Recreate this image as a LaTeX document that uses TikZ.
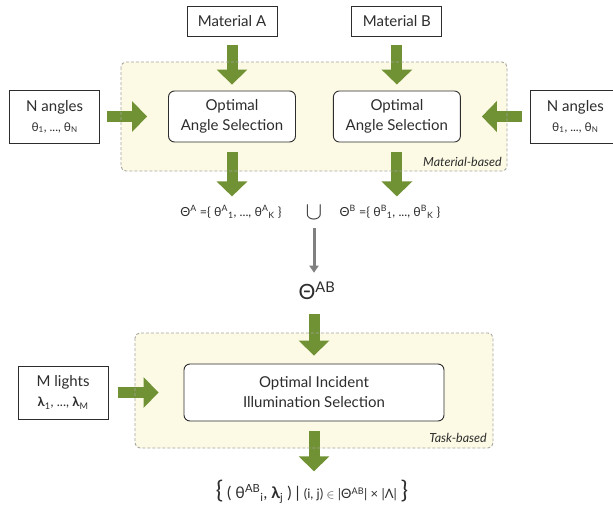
\documentclass[tikz,border=0pt]{standalone}
\usepackage{fontspec}
\setmainfont{Lato}
\usetikzlibrary{arrows.meta,positioning}
\definecolor{leaf}{RGB}{112,146,52}
\definecolor{cream}{RGB}{252,250,228}
\definecolor{frame}{RGB}{165,165,160}
\definecolor{ink}{RGB}{45,45,45}
\newcommand{\supsub}[2]{\textsuperscript{#1}\textsubscript{#2}}
\newcommand{\bigsym}[1]{{\fontsize{24}{24}\selectfont #1}}

\begin{document}
\begin{tikzpicture}[
  x=1pt, y=-1pt,
  font=\fontsize{15}{20}\selectfont, text=ink,
  box/.style={draw=ink, line width=0.9pt, fill=white, align=center,
              minimum width=90pt, minimum height=30pt, inner sep=0pt},
  selbox/.style={box, rounded corners=6pt, minimum width=127pt, minimum height=51pt},
  region/.style={draw=frame, line width=0.9pt, densely dashed, rounded corners=5pt},
  fat/.style={-{Triangle[width=30pt,length=15pt]}, line width=11pt, draw=leaf},
  slim/.style={-{Triangle[width=9pt,length=7pt]}, line width=3pt, draw=black!50},
  set/.style={inner sep=0pt, font=\fontsize{12.5}{14}\selectfont}]
  \useasboundingbox (0,0) rectangle (613,506);
  \fill[white] (0,0) rectangle (613,506);
  \fill[cream, rounded corners=5pt] (121,62) rectangle (507,171);
  \fill[cream, rounded corners=5pt] (135,333) rectangle (493,448);
  % material-based part
  \node[selbox] (selA) at (232,116.5) {Optimal\\Angle Selection};
  \node[selbox, right=37pt of selA] (selB) {Optimal\\Angle Selection};
  \node[box, above=54pt of selA] (matA) {Material A};
  \node[box, above=54pt of selB] (matB) {Material B};
  \node[box, minimum height=53pt, left=68pt of selA] (angL) {N angles\\{\fontsize{12}{14}\selectfont θ\textsubscript{1}, ..., θ\textsubscript{N}}};
  \node[box, minimum height=53pt, right=69pt of selB] (angR) {N angles\\{\fontsize{12}{14}\selectfont θ\textsubscript{1}, ..., θ\textsubscript{N}}};
  \node[set] (setA) at (231,212) {Θ\textsuperscript{A} =\{ θ\supsub{A}{1}, ..., θ\supsub{A}{K} \}};
  \node[set] (setB) at (390,212) {Θ\textsuperscript{B} =\{ θ\supsub{B}{1}, ..., θ\supsub{B}{K} \}};
  \node[inner sep=0pt] (cup) at (314,213) {{\fontsize{30}{30}\selectfont$\cup$}};
  \node[inner sep=0pt, anchor=east, font=\fontsize{12.5}{14}\selectfont\itshape] (lblM) at (502,162) {Material-based};
  \draw[fat, shorten <=8pt, shorten >=6pt] (matA) -- (selA);
  \draw[fat, shorten <=8pt, shorten >=6pt] (matB) -- (selB);
  \draw[fat, shorten <=7pt, shorten >=21pt] (angL) -- (selA);
  \draw[fat, shorten <=8pt, shorten >=21pt] (angR) -- (selB);
  \draw[fat, shorten <=10pt, shorten >=9pt] (selA.south) -- (selA.south |- setA.north);
  \draw[fat, shorten <=10pt, shorten >=9pt] (selB.south) -- (selB.south |- setB.north);
  % task-based part
  \node[inner sep=0pt, font=\fontsize{21}{21}\selectfont] (thAB) at (317,291) {Θ\textsuperscript{AB}};
  \node[selbox, minimum width=260pt, minimum height=57pt] (illum) at (314,392.5) {Optimal Incident\\Illumination Selection};
  \node[box, minimum height=53pt, left=75pt of illum] (lights) {M lights\\{\fontsize{13}{14}\selectfont\textbf{λ}\textsubscript{1}, ..., \textbf{λ}\textsubscript{M}}};
  \node[inner sep=0pt, font=\fontsize{16}{20}\selectfont] (pairs) at (312,492) {\bigsym{\{} ( θ\supsub{AB}{i}, \textbf{λ}\textsubscript{j} ) | {\fontsize{13}{14}\selectfont (i, j) $\in$ |Θ\textsuperscript{AB}| × |Λ|} \bigsym{\}}};
  \node[inner sep=0pt, anchor=east, font=\fontsize{12.5}{14}\selectfont\itshape] (lblT) at (487,438) {Task-based};
  \draw[slim, shorten <=8pt, shorten >=9pt] (cup.south) -- (cup.south |- thAB.north);
  \draw[fat, shorten <=14pt, shorten >=8pt] (cup.south |- thAB.south) -- (illum.north);
  \draw[fat, shorten <=9pt, shorten >=25pt] (lights) -- (illum);
  \draw[fat, shorten <=10pt, shorten >=9pt] (illum.south) -- (illum.south |- pairs.north);
  % dotted frames on top
  \draw[region] (121,62) rectangle (507,171);
  \draw[region] (135,333) rectangle (493,448);
\end{tikzpicture}
\end{document}
